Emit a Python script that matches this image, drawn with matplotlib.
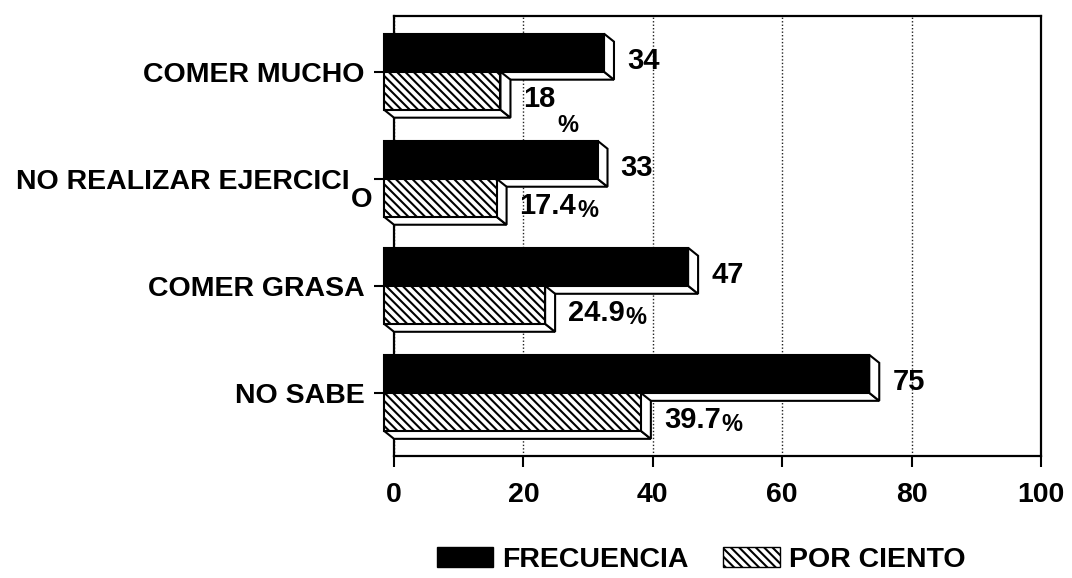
import matplotlib
matplotlib.use("Agg")
import matplotlib.pyplot as plt  # noqa: E402
from matplotlib.patches import Polygon, Patch  # noqa: E402
import numpy as np  # noqa: E402

plt.rcParams.update({"font.family": ["Liberation Sans", "DejaVu Sans"],
                     "font.weight": "bold", "hatch.linewidth": 1.5})

# ---- data ----
categories = ["NO SABE", "COMER GRASA", "NO REALIZAR EJERCICIO", "COMER MUCHO"]
tick_labels = ["NO SABE", "COMER GRASA", "NO REALIZAR EJERCICI", "COMER MUCHO"]
frecuencia = [75, 47, 33, 34]
por_ciento = [39.7, 24.9, 17.4, 18]
pct_labels = ["39.7", "24.9", "17.4", "18"]
x_ticks = [0, 20, 40, 60, 80, 100]
legend_labels = ["FRECUENCIA", "POR CIENTO"]

HATCH = "\\\\\\\\"
W, H = 1072, 578
fig = plt.figure(figsize=(W / 100, H / 100), dpi=100)
ax = fig.add_axes([394 / W, 122 / H, 647 / W, 440 / H])
ax.set_xlim(0, 100)
ax.set_ylim(-0.59, 3.52)

# pixel -> data conversion for the fake 3D depth
bb = ax.get_window_extent()
dx = 10 * 100 / bb.width
dy = 8 * (3.52 + 0.59) / bb.height
h = 0.355
ypos = np.arange(len(categories))


def bar3d(v, y0, fc, hatch):
    # bottom and right faces (white), then the front face
    bottom = [(-dx, y0), (v - dx, y0), (v, y0 - dy), (0, y0 - dy)]
    right = [(v - dx, y0), (v - dx, y0 + h), (v, y0 + h - dy), (v, y0 - dy)]
    for pts in (bottom, right):
        ax.add_patch(Polygon(pts, closed=True, facecolor="white", edgecolor="black",
                             lw=1.5, zorder=4, clip_on=False))
    ax.barh(y0, v, height=h, left=-dx, align="edge", color=fc, edgecolor="black",
            hatch=hatch, lw=1.5, zorder=5, clip_on=False)


for i, (f, p) in enumerate(zip(frecuencia, por_ciento)):
    bar3d(f, ypos[i], "black", None)
    bar3d(p, ypos[i] - h, "white", HATCH)
    ax.annotate(str(f), xy=(f, ypos[i] + h / 2 - dy), xytext=(13, 0),
                textcoords="offset pixels", va="center", ha="left", fontsize=21)
    t = ax.annotate(pct_labels[i], xy=(p, ypos[i] - h / 2 - dy), xytext=(13, 0),
                    textcoords="offset pixels", va="center", ha="left", fontsize=21)
    if float(pct_labels[i]).is_integer():
        ax.annotate("%", xy=(1, 0), xycoords=t, xytext=(2, -13),
                    textcoords="offset pixels", va="center", ha="left", fontsize=17)
    else:
        ax.annotate("%", xy=(1, 0.5), xycoords=t, xytext=(1, -5),
                    textcoords="offset pixels", va="center", ha="left", fontsize=17)

# axes, ticks, grid
ax.set_xticks(x_ticks)
ax.set_xticklabels([str(x) for x in x_ticks], fontsize=20.5)
ax.set_yticks(ypos)
ax.set_yticklabels(tick_labels, fontsize=20.5)
ax.tick_params(axis="x", length=8, width=1.5, pad=11)
ax.tick_params(axis="y", length=14.5, width=1.5, pad=6.5)
ax.yaxis.get_major_ticks()[2].set_pad(6.5 + 11)
ax.annotate("O", xy=(0, ypos[2]), xytext=(-22, -21), textcoords="offset pixels",
            ha="right", va="center", fontsize=20)
for s in ax.spines.values():
    s.set_linewidth(1.6)
ax.set_axisbelow(True)
ax.grid(axis="x", color="#222222", lw=1, ls=(0, (1, 1.5)))
ax.grid(axis="y", visible=False)

handles = [Patch(facecolor="black", edgecolor="black"),
           Patch(facecolor="white", edgecolor="black", hatch=HATCH)]
fig.legend(handles, legend_labels, loc="center", bbox_to_anchor=(701 / W, 1 - 560 / H),
           ncol=2, frameon=False, fontsize=20.5, handlelength=1.97, handleheight=0.7,
           handletextpad=0.32, columnspacing=1.23, borderpad=0)

fig.savefig("out.png", dpi=100)
